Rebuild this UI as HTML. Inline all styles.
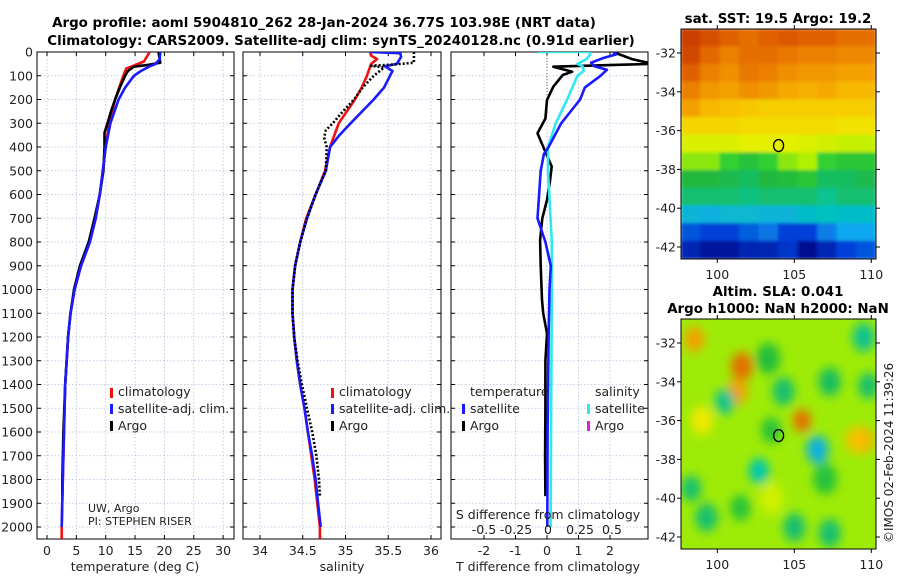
<!DOCTYPE html>
<html><head><meta charset="utf-8">
<style>
html,body{margin:0;padding:0;background:#fff;}
svg{display:block;font-family:"DejaVu Sans","Liberation Sans",sans-serif;}
.t{font-size:12.5px;fill:#222;}
.b{font-weight:bold;font-size:13.4px;fill:#000;}
</style></head><body>
<svg id="fig" width="900" height="580" viewBox="0 0 900 580" xmlns="http://www.w3.org/2000/svg">
<defs>
<filter id="blurS" x="0" y="0" width="1" height="1"><feGaussianBlur stdDeviation="1.5"/></filter>
<filter id="blurL" x="-50%" y="-50%" width="200%" height="200%"><feGaussianBlur stdDeviation="5"/></filter>
<clipPath id="c1"><rect x="37" y="52" width="197" height="487"/></clipPath>
<clipPath id="c2"><rect x="243" y="52" width="198" height="487"/></clipPath>
<clipPath id="c3"><rect x="451" y="52" width="197" height="487"/></clipPath>
<clipPath id="cm1"><rect x="681" y="29" width="195" height="230"/></clipPath>
<clipPath id="cm2"><rect x="681" y="319" width="195" height="230"/></clipPath>
</defs>
<text class="b" x="324" y="27" text-anchor="middle">Argo profile: aoml 5904810_262 28-Jan-2024 36.77S 103.98E (NRT data)</text>
<text class="b" x="341" y="45" text-anchor="middle">Climatology: CARS2009. Satellite-adj clim: synTS_20240128.nc (0.91d earlier)</text>
<g id="g"></g>
</svg>
<script>
// ---------- data ----------
const tDepthClim=[0,40,55,70,100,150,200,300,400,500,600,700,800,900,1000,1100,1200,1400,1600,1800,2000,2050];
const tClim=[17.5,16.5,15,13.5,13,12.3,11.6,10.6,10,9.5,9,8.3,7.3,5.8,4.7,4,3.6,3.1,2.9,2.7,2.5,2.5];
const tDepthSat=[0,30,50,60,80,100,150,200,300,400,500,600,700,800,900,1000,1100,1200,1400,1600,1800,2000];
const tSat=[19.3,19.2,18.5,17.5,16,14.8,13.3,12.2,10.8,10,9.5,9,8.3,7.3,5.8,4.7,4,3.6,3.1,2.9,2.7,2.5];
const tDepthArgo=[0,45,55,62,80,100,150,200,250,300,340,400,500,600,700,800,900,1000,1100,1200,1400,1600,1800,1870];
const tArgo=[19,19.3,17,14.8,13.8,13.3,12.4,11.6,10.9,10.3,9.8,9.8,9.6,9,8.1,7.1,5.6,4.6,4,3.6,3.1,2.8,2.6,2.6];
const sDepthClim=[0,15,30,50,100,150,200,300,400,500,600,700,800,900,1000,1100,1200,1300,1400,1500,1600,1700,1800,1900,2000,2050];
const sClim=[35.29,35.3,35.37,35.3,35.25,35.19,35.11,34.92,34.82,34.76,34.65,34.54,34.47,34.41,34.38,34.38,34.4,34.43,34.47,34.52,34.56,34.6,34.64,34.67,34.7,34.7];
const sDepthSat=[0,5,20,50,60,80,100,150,200,300,350,400,500,600,700,800,900,1000,1100,1200,1300,1400,1500,1600,1700,1800,1900,2000];
const sSat=[35.29,35.64,35.65,35.6,35.46,35.55,35.52,35.45,35.33,35.06,34.93,34.82,34.77,34.65,34.55,34.47,34.41,34.38,34.38,34.4,34.43,34.47,34.52,34.56,34.61,34.65,34.68,34.71];
const sDepthArgo=[0,45,52,58,65,80,100,150,200,250,300,330,360,400,500,600,700,800,900,1000,1100,1200,1300,1400,1500,1600,1700,1800,1870];
const sArgo=[35.8,35.8,35.6,35.3,35.45,35.4,35.33,35.2,35.1,34.97,34.85,34.77,34.75,34.78,34.77,34.65,34.55,34.47,34.41,34.38,34.38,34.4,34.44,34.49,34.55,34.61,34.66,34.69,34.7];
const dDepthTSat=[0,10,25,45,60,75,100,150,200,300,400,430,500,600,700,800,900,1000,1200,1600,2000];
const dTSat=[2.1,2.2,1.8,1.4,1.5,1.9,1.7,1.2,1.05,0.45,0.05,-0.1,-0.2,-0.25,-0.3,-0.05,0.12,0.08,0.05,0.02,0.01];
const dDepthSSat=[0,0,10,30,50,60,80,100,150,200,300,400,500,800,1000,1500,2000];
const dSSat=[-0.08,0.33,0.33,0.3,0.23,0.27,0.28,0.23,0.19,0.15,0.06,0,0,0.03,0.03,0.025,0.02];
const dDepthTArgo=[0,30,48,50,62,83,97,146,202,280,342,399,482,539,623,700,792,900,1044,1100,1185,1300,1500,1700,1870];
const dTArgo=[2.1,2.7,3.3,3.3,0.2,0.8,0.5,0.2,0,-0.05,-0.3,-0.12,0.15,0.1,0,-0.15,-0.22,-0.2,-0.16,-0.12,0,-0.05,-0.05,-0.06,-0.05];
const tTicks=[0,5,10,15,20,25,30];
const sTicks=[34,34.5,35,35.5,36];
const dTTicks=[-2,-1,0,1,2];
const dSTicks=[-0.5,-0.25,0,0.25,0.5];
const sdTickLabels=["-0.5","-0.25","0","0.25","0.5"];
const depthTicks=[0,100,200,300,400,500,600,700,800,900,1000,1100,1200,1300,1400,1500,1600,1700,1800,1900,2000];
const mapLonTicks=[100,105,110];
const mapLatTicks=[-32,-34,-36,-38,-40,-42];
const sstGrid=[
[.86,.84,.82,.8,.82,.83,.82,.82,.8,.8],
[.85,.81,.78,.8,.8,.79,.78,.78,.77,.77],
[.82,.78,.76,.79,.78,.76,.75,.75,.74,.74],
[.78,.75,.74,.76,.75,.73,.72,.73,.71,.71],
[.74,.71,.7,.69,.68,.68,.68,.68,.68,.68],
[.67,.67,.67,.66,.66,.66,.66,.66,.65,.65],
[.61,.61,.61,.62,.62,.62,.61,.6,.59,.59],
[.55,.55,.5,.47,.5,.55,.57,.5,.48,.48],
[.45,.45,.44,.43,.45,.46,.48,.43,.43,.44],
[.42,.42,.42,.41,.42,.42,.42,.4,.42,.42],
[.33,.32,.34,.34,.33,.33,.35,.36,.35,.35],
[.22,.2,.2,.23,.25,.2,.2,.26,.3,.3],
[.15,.12,.12,.15,.15,.18,.1,.15,.2,.22]];
const slaLon=[98.5,101.6,101.3,105.5,106.5,102.7,100.5,104.3,109.5,109.5,105,99.3,107.3,103.3,107.3,98.3,103.5,107,99,109,103.5,109.8,101.5];
const slaLat=[-31.8,-33.2,-34.5,-36,-37.5,-38.6,-35,-34.5,-31.7,-37,-41.5,-41,-41.8,-32.8,-34,-39.5,-36.5,-39,-36,-37,-40,-34.2,-40.5];
const slaVal=[0.74,0.8,0.74,0.8,0.32,0.38,0.4,0.42,0.4,0.72,0.42,0.42,0.42,0.46,0.43,0.42,0.47,0.47,0.64,0.7,0.6,0.42,0.47];
const slaRad=[10,11,10,9,11,10,10,11,11,10,11,11,11,12,11,10,10,12,11,10,12,10,10];

// ---------- helpers ----------
const NS="http://www.w3.org/2000/svg";
const G=document.getElementById('g');
function mk(tag,attrs,parent){const e=document.createElementNS(NS,tag);for(const k in attrs)e.setAttribute(k,attrs[k]);(parent||G).appendChild(e);return e;}
const cmStops=[[0,[0,0,110]],[0.1,[0,10,144]],[0.2,[0,64,216]],[0.3,[16,168,240]],[0.38,[0,200,176]],[0.45,[32,184,64]],[0.5,[48,208,48]],[0.57,[176,240,0]],[0.63,[240,240,0]],[0.7,[248,192,0]],[0.76,[240,144,0]],[0.82,[224,96,0]],[0.88,[192,48,0]],[1,[140,20,0]]];
function jet(v){v=Math.max(0,Math.min(1,v));
 for(let i=1;i<cmStops.length;i++){if(v<=cmStops[i][0]){const [a,ca]=cmStops[i-1],[b,cb]=cmStops[i];const f=(v-a)/(b-a);
  return 'rgb('+ca.map((c,k)=>Math.round(c+(cb[k]-c)*f)).join(',')+')';}}
 return 'rgb(140,20,0)';}
const Y0=52,Y1=539,YS=0.2375;
const yD=d=>Y0+d*YS;
const xT=v=>47+v*5.87;
const xS=v=>260+(v-34)*85.5;
const xDT=v=>547+v*31.5;
const xDS=v=>548+v*128;
const panels=[{x0:37,x1:234,clip:'c1'},{x0:243,x1:441,clip:'c2'},{x0:451,x1:648,clip:'c3'}];
const xtickSets=[[tTicks,xT],[sTicks,xS],[dTTicks,xDT]];

panels.forEach((p,i)=>{
 const pg=mk('g',{});
 
 
 mk('rect',{x:p.x0,y:Y0,width:p.x1-p.x0,height:Y1-Y0,fill:'#fff'},pg);
 depthTicks.forEach(d=>{
  const gl=mk('line',{x1:p.x0,x2:p.x1,y1:yD(d),y2:yD(d),stroke:'#b8bedf','stroke-width':0.8,'stroke-dasharray':'1.5,2'},pg);
  
  
  mk('line',{x1:p.x0,x2:p.x0+4,y1:yD(d),y2:yD(d),stroke:'#000'},pg);
  mk('line',{x1:p.x1-4,x2:p.x1,y1:yD(d),y2:yD(d),stroke:'#000'},pg);
 });
 const [ticks,fx]=xtickSets[i];
 ticks.forEach(t=>{
  const gl=mk('line',{x1:fx(t),x2:fx(t),y1:Y0,y2:Y1,stroke:'#b8bedf','stroke-width':0.8,'stroke-dasharray':'1.5,2'},pg);
  
  
  mk('line',{x1:fx(t),x2:fx(t),y1:Y1-4,y2:Y1,stroke:'#000'},pg);
  mk('line',{x1:fx(t),x2:fx(t),y1:Y0,y2:Y0+4,stroke:'#000'},pg);
  const tl=mk('text',{x:fx(t),y:555,'text-anchor':'middle',class:'t'},pg);
  tl.textContent=String(t);
  
  
 });
 mk('rect',{x:p.x0,y:Y0,width:p.x1-p.x0,height:Y1-Y0,fill:'none',stroke:'#000','stroke-width':1},pg);
});
depthTicks.forEach(d=>{
 const tl=mk('text',{x:33,y:yD(d)+4.5,'text-anchor':'end',class:'t'});
 tl.textContent=String(d);
 
 
});
const zl=mk('line',{x1:xDT(0),x2:xDT(0),y1:Y0,y2:yD(260),stroke:'#556b2f','stroke-width':1,'stroke-dasharray':'1,2'});



function line(depths,vals,fx,color,clip,name,dash){
 const pts=depths.map((d,i)=>fx(vals[i]).toFixed(1)+','+yD(d).toFixed(1)).join(' ');
 const a={points:pts,fill:'none',stroke:color,'stroke-width':2.6,'stroke-linejoin':'round','clip-path':'url(#'+clip+')'};
 if(dash)a['stroke-dasharray']=dash;
 const e=mk('polyline',a);
 
 
}
line(tDepthClim,tClim,xT,'#f01010','c1','temp-climatology-line');
line(tDepthArgo,tArgo,xT,'#000','c1','temp-argo-line');
line(tDepthSat,tSat,xT,'#1a1aff','c1','temp-satellite-line');
line(sDepthClim,sClim,xS,'#f01010','c2','sal-climatology-line');
line(sDepthSat,sSat,xS,'#1a1aff','c2','sal-satellite-line');
line(sDepthArgo,sArgo,xS,'#000','c2','sal-argo-line','2,2');
line(dDepthTArgo,dTArgo,xDT,'#000','c3','tdiff-argo-line');
line(dDepthSSat,dSSat,xDS,'#30e8f0','c3','sdiff-satellite-line');
line(dDepthTSat,dTSat,xDT,'#1a1aff','c3','tdiff-satellite-line');

function txt(x,y,s,name,extra){const e=mk('text',Object.assign({x:x,y:y,class:'t'},extra||{}));e.textContent=s;
 
 return e;}
function mark(x,y,c,name){const e=mk('rect',{x:x,y:y-9,width:3,height:10,fill:c});
 
 }
[[110,'legend-1'],[331,'legend-2']].forEach(([lx,n])=>{
 mark(lx,397,'#f01010',n+'-climatology-marker');txt(lx+8,396,'climatology',n+'-climatology');
 mark(lx,413,'#1a1aff',n+'-satellite-marker');txt(lx+8,413,'satellite-adj. clim.',n+'-satellite');
 mark(lx,430,'#000',n+'-argo-marker');txt(lx+8,430,'Argo',n+'-argo');
});
txt(470,396,'temperature','legend-3-temperature-header');
mark(462,413,'#1a1aff','legend-3-tsat-marker');txt(470,413,'satellite','legend-3-tsat');
mark(462,430,'#000','legend-3-targo-marker');txt(470,430,'Argo','legend-3-targo');
txt(595,396,'salinity','legend-3-salinity-header');
mark(587,413,'#30e8f0','legend-3-ssat-marker');txt(595,413,'satellite','legend-3-ssat');
mark(587,430,'#e020e0','legend-3-sargo-marker');txt(595,430,'Argo','legend-3-sargo');
txt(88,512,'UW, Argo','pi-institution',{style:'font-size:11px'});
txt(88,525,'PI: STEPHEN RISER','pi-name',{style:'font-size:11px'});
txt(548,519,'S difference from climatology','sdiff-axis-title',{'text-anchor':'middle'});
dSTicks.forEach((t,i)=>txt(xDS(t),534,sdTickLabels[i],'sdiff-tick-label',{'text-anchor':'middle'}));
txt(135,571,'temperature (deg C)','temp-axis-title',{'text-anchor':'middle'});
txt(342,571,'salinity','salinity-axis-title',{'text-anchor':'middle'});
txt(548,571,'T difference from climatology','tdiff-axis-title',{'text-anchor':'middle'});

// ---------- maps ----------
const lonX=l=>717.3+(l-100)*15.4;
const latY1=la=>53+(-32-la)*19.4;
const latY2=la=>343+(-32-la)*19.4;
const m1=mk('g',{'clip-path':'url(#cm1)'});


const m1i=mk('g',{filter:'url(#blurS)'},m1);
const nr=sstGrid.length,nc=sstGrid[0].length,cw=195/nc,ch=230/nr;
sstGrid.forEach((row,r)=>row.forEach((v,c)=>{
 const e=mk('rect',{x:681+c*cw-0.5,y:29+r*ch-0.5,width:cw+1,height:ch+1,fill:jet(v)},m1i);
 
 
}));
const m2=mk('g',{'clip-path':'url(#cm2)'});


mk('rect',{x:681,y:319,width:195,height:230,fill:jet(0.56)},m2);
const m2i=mk('g',{filter:'url(#blurL)'},m2);
slaLon.forEach((lo,i)=>{
 const e=mk('ellipse',{cx:lonX(lo),cy:latY2(slaLat[i]),rx:slaRad[i],ry:slaRad[i]*1.3,fill:jet(slaVal[i])},m2i);
 
 
});
[[29,latY1,'sst'],[319,latY2,'sla']].forEach(([top,ly,n])=>{
 mk('rect',{x:681,y:top,width:195,height:230,fill:'none',stroke:'#000'});
 mapLatTicks.forEach(la=>{
  mk('line',{x1:677,x2:681,y1:ly(la),y2:ly(la),stroke:'#000'});
  mk('line',{x1:876,x2:880,y1:ly(la),y2:ly(la),stroke:'#000'});
  txt(676,ly(la)+4.5,String(la),n+'-lat-label',{'text-anchor':'end'});
 });
 mapLonTicks.forEach(lo=>{
  mk('line',{x1:lonX(lo),x2:lonX(lo),y1:top+230,y2:top+234,stroke:'#000'});
  mk('line',{x1:lonX(lo),x2:lonX(lo),y1:top-4,y2:top,stroke:'#000'});
  txt(lonX(lo),top+250,String(lo),n+'-lon-label',{'text-anchor':'middle'});
 });
 const c=mk('ellipse',{cx:lonX(103.98),cy:ly(-36.77),rx:5,ry:6,fill:'none',stroke:'#000','stroke-width':1.3});
 
 
});
txt(778,23,'sat. SST: 19.5 Argo: 19.2','sst-map-title',{'text-anchor':'middle',class:'b'});
txt(778,296,'Altim. SLA: 0.041','sla-map-title',{'text-anchor':'middle',class:'b'});
txt(778,313,'Argo h1000: NaN h2000: NaN','sla-map-subtitle',{'text-anchor':'middle',class:'b'});
txt(0,0,'©IMOS 02-Feb-2024 11:39:26','timestamp',{transform:'translate(893,543) rotate(-90)',style:'font-size:12px'});
</script>
</body></html>
